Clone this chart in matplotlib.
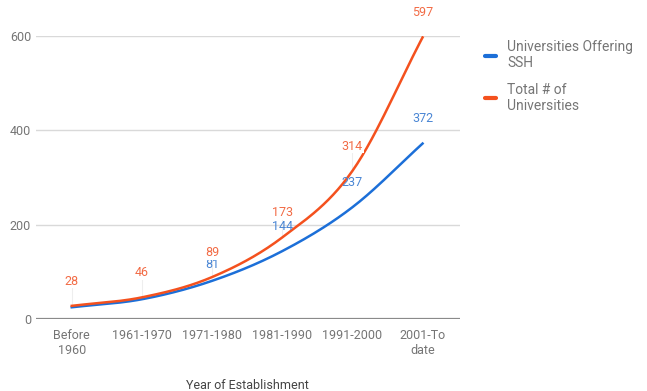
import numpy as np
import matplotlib
matplotlib.use('Agg')
import matplotlib.pyplot as plt

periods = ['Before\n1960', '1961-1970', '1971-1980', '1981-1990', '1991-2000', '2001-To\ndate']
ssh = [25, 42, 81, 144, 237, 372]
total = [28, 46, 89, 173, 314, 597]
ssh_shown = [False, False, True, True, True, True]

blue = '#1c6fd8'
orange = '#f4511e'
grey = '#757575'

plt.rcParams['font.family'] = ['Roboto', 'DejaVu Sans']


def smooth(xs, ys, n=30):
    # cubic hermite through the points, just for drawing
    xs = np.asarray(xs, float)
    ys = np.asarray(ys, float)
    m = np.gradient(ys, xs)
    outx, outy = [], []
    for i in range(len(xs) - 1):
        t = np.linspace(0, 1, n)
        h = xs[i + 1] - xs[i]
        h00 = 2 * t**3 - 3 * t**2 + 1
        h10 = t**3 - 2 * t**2 + t
        h01 = -2 * t**3 + 3 * t**2
        h11 = t**3 - t**2
        outx.extend(xs[i] + t * h)
        outy.extend(h00 * ys[i] + h10 * h * m[i] + h01 * ys[i + 1] + h11 * h * m[i + 1])
    return outx, outy


fig = plt.figure(figsize=(6.47, 3.91), dpi=100)
ax = fig.add_axes([0.0556, 0.184, 0.655, 0.724])

x = np.arange(len(periods))

for yv in [200, 400, 600]:
    ax.axhline(yv, color='#d9d9d9', lw=1, zorder=0)
ax.axhline(0, color='#8a8a8a', lw=1.6, zorder=1)

sx, sy = smooth(x, ssh)
ax.plot(sx, sy, color=blue, lw=1.8, zorder=3, label='Universities Offering\nSSH')
tx, ty = smooth(x, total)
ax.plot(tx, ty, color=orange, lw=1.8, zorder=4, label='Total # of\nUniversities')

# faint leader lines + data labels
for i in range(len(x)):
    ax.plot([x[i], x[i]], [total[i], total[i] + 40], color='#eeeeee', lw=0.8, zorder=2)
    if ssh_shown[i]:
        off = 7 if i == 2 else 13
        ax.annotate(str(ssh[i]), (x[i], ssh[i]), xytext=(0, off), textcoords='offset points',
                    ha='center', va='bottom', color='#4a86d4', fontsize=9, zorder=5)
    ax.annotate(str(total[i]), (x[i], total[i]), xytext=(0, 13), textcoords='offset points',
                ha='center', va='bottom', color='#f26b45', fontsize=9, zorder=6,
                bbox=dict(boxstyle='square,pad=0.05', fc='white', ec='none'))

ax.set_xlim(-0.51, 5.53)
ax.set_ylim(0, 600)
ax.set_xticks(x)
ax.set_xticklabels(periods)
ax.set_yticks([0, 200, 400, 600])
ax.tick_params(length=0, colors=grey, labelsize=9)
ax.tick_params(axis='x', pad=7)
for s in ax.spines.values():
    s.set_visible(False)

ax.set_xlabel('Year of Establishment', color='#444444', fontsize=9, labelpad=16)

leg = ax.legend(loc='upper left', bbox_to_anchor=(1.03, 1.03), frameon=False,
                fontsize=10, labelcolor=grey, handlelength=0.8, handletextpad=0.8,
                labelspacing=0.9)
for h in leg.get_lines():
    h.set_linewidth(3)
    h.set_solid_capstyle('round')

fig.savefig('out.png', dpi=100)
